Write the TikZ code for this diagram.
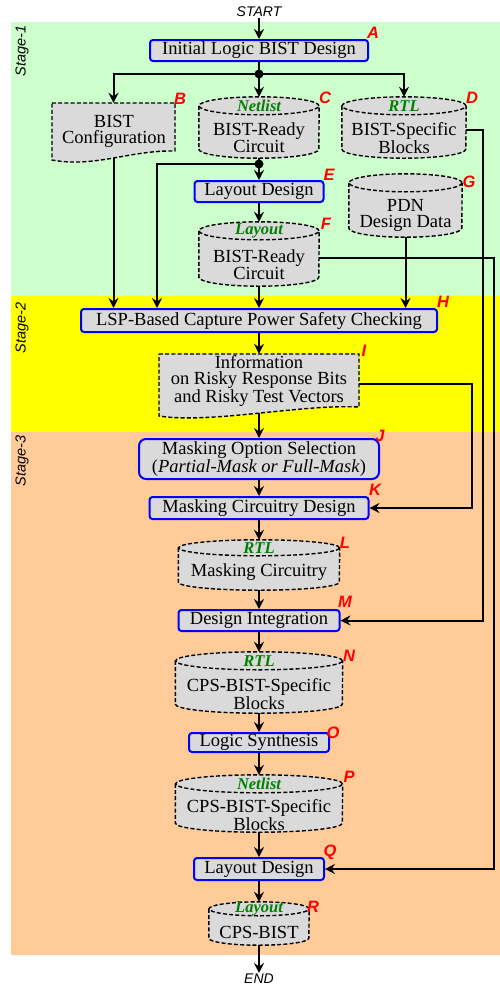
\documentclass[tikz,border=0pt]{standalone}
\usepackage{fontspec}
\setmainfont{Liberation Serif}
\newfontfamily\arialf{Liberation Sans}
\usetikzlibrary{arrows.meta,calc}

\definecolor{stgreen}{HTML}{CCFFCC}
\definecolor{styellow}{HTML}{FFFF00}
\definecolor{storange}{HTML}{FFCC99}
\definecolor{boxgray}{HTML}{DADADA}
\definecolor{lblgreen}{HTML}{008000}
\definecolor{boxblue}{HTML}{0000FF}

\tikzset{
 procbox/.style={draw=boxblue, line width=2pt, fill=boxgray, rounded corners=3pt, inner sep=0pt,
   font=\fontsize{18.5}{16}\selectfont, align=center},
 cylframe/.style={inner sep=0pt, draw=none, fill=none},
 cylline/.style={draw=black, line width=1.4pt, dash pattern=on 4pt off 2.2pt},
 maintext/.style={font=\fontsize{18.5}{16}\selectfont, align=center, inner sep=0pt},
 kindtext/.style={font=\fontsize{16.5}{16}\selectfont\bfseries\itshape, text=lblgreen, inner sep=0pt},
 letter/.style={font=\arialf\fontsize{16.5}{16}\selectfont\bfseries\itshape, text=red, inner sep=0pt},
 stagetext/.style={font=\arialf\fontsize{14.5}{15}\selectfont\itshape, rotate=90, inner sep=0pt},
 termtext/.style={font=\arialf\fontsize{14}{14}\selectfont\itshape, inner sep=1pt},
 arr/.style={line width=2pt, -{Stealth[length=10pt,width=10pt,inset=3.5pt]}},
 conn/.style={line width=2pt},
 junction/.style={circle, fill=black, inner sep=0pt, minimum size=9pt},
}

% name, cx, top, bottom, halfwidth, ry, kind, text, texty
\newcommand\dbcyl[9]{%
  \node[cylframe, minimum width={2*#5*1pt}, minimum height={(#4-#3)*1pt}] (#1) at (#2,{(#3+#4)/2}) {};
  \fill[boxgray] ([yshift=-#6pt]#1.north west) -- ([yshift=#6pt]#1.south west)
     arc[start angle=180, end angle=360, x radius=#5pt, y radius=#6pt]
     -- ([yshift=-#6pt]#1.north east)
     arc[start angle=0, end angle=180, x radius=#5pt, y radius=#6pt] -- cycle;
  \draw[cylline] ([yshift=-#6pt]#1.north west) -- ([yshift=#6pt]#1.south west)
     arc[start angle=180, end angle=360, x radius=#5pt, y radius=#6pt]
     -- ([yshift=-#6pt]#1.north east);
  \draw[cylline] ([yshift=-#6pt]#1.north) ellipse [x radius=#5pt, y radius=#6pt];
  \node[kindtext] (#1k) at ([yshift=-#6pt]#1.north) {#7};
  \node[maintext] (#1t) at (#2,#9) {#8};
}

\begin{document}
\begin{tikzpicture}[x=1pt,y=-1pt]
\useasboundingbox (0,0) rectangle (500,986);

% stage backgrounds
\fill[stgreen] (11,22) rectangle (500,296);
\fill[styellow] (11,296) rectangle (500,432);
\fill[storange] (11,432) rectangle (500,955);
\node[stagetext] (s1) at (22,51) {Stage-1};
\node[stagetext] (s2) at (22,328) {Stage-2};
\node[stagetext] (s3) at (22,461) {Stage-3};

% terminals
\node[termtext] (start) at (259,12) {START};
\node[termtext] (end) at (259,979) {END};

% rails
\coordinate (rail1) at (483,0);
\coordinate (rail2) at (494,0);
\coordinate (rail3) at (472,0);
\coordinate (hx) at (157,0);

% process boxes
\node[procbox, minimum width=218pt, minimum height=21pt] (A) at (259,50.5) {Initial Logic BIST Design};
\node[procbox, minimum width=129pt, minimum height=21pt] (E) at (259,191.5) {Layout Design};
\node[procbox, minimum width=356pt, minimum height=23pt] (H) at (259,320.5) {LSP-Based Capture Power Safety Checking};
\node[procbox, rounded corners=7pt, minimum width=240pt, minimum height=40pt] (J) at (259,459)
  {Masking Option Selection\\(\textit{Partial-Mask or Full-Mask})};
\node[procbox, minimum width=219pt, minimum height=22pt] (K) at (259,508) {Masking Circuitry Design};
\node[procbox, minimum width=161pt, minimum height=21pt] (M) at (259,620.5) {Design Integration};
\node[procbox, minimum width=140pt, minimum height=19pt] (O) at (259,742.5) {Logic Synthesis};
\node[procbox, minimum width=130pt, minimum height=22pt] (Q) at (259,869) {Layout Design};

% document shapes
\node[cylframe, minimum width=123pt, minimum height=55pt] (B) at (113.5,130.5) {};
\path[fill=boxgray, cylline] (52,103) -- (175,103) -- (175,151) .. controls (130,150) and (95,168) .. (52,160) -- cycle;
\node[maintext] (Bt) at (114,131) {BIST\\Configuration};

\node[cylframe, minimum width=200pt, minimum height=59pt] (I) at (259,383.5) {};
\path[fill=boxgray, cylline] (159,354) -- (359,354) -- (359,407) .. controls (301,404) and (211,424) .. (159,416) -- cycle;
\node[maintext] (It) at (259,381) {Information\\on Risky Response Bits\\and Risky Test Vectors};

% cylinders
\dbcyl{C}{259}{97}{158}{60}{9}{Netlist}{BIST-Ready\\Circuit}{138}
\dbcyl{D}{404}{97}{158}{62}{9}{RTL}{BIST-Specific\\Blocks}{138}
\dbcyl{G}{405.5}{174}{237}{56.5}{9}{}{PDN\\Design Data}{215}
\dbcyl{F}{259}{222}{286}{60}{9}{Layout}{BIST-Ready\\Circuit}{265}
\dbcyl{L}{259}{540}{590}{80.5}{8}{RTL}{Masking Circuitry}{572}
\dbcyl{N}{259}{652}{713}{83.5}{9}{RTL}{CPS-BIST-Specific\\Blocks}{694}
\dbcyl{P}{259}{775}{832}{83.5}{9}{Netlist}{CPS-BIST-Specific\\Blocks}{815}
\dbcyl{R}{259}{902}{945}{50}{7}{Layout}{CPS-BIST}{932}

% junctions
\node[junction] (j1) at (259,74) {};
\node[junction] (j2) at (259,164) {};

% connectors
\draw[arr] (start) -- (A);
\draw[arr] (A.south) -- (C.north);
\draw[arr] (j1.center) -| (B.north);
\draw[arr] (j1.center) -| (D.north);
\draw[arr] (C.south) -- (E.north);
\draw[arr] (j2.center) -| (hx |- H.north);
\draw[arr] (E.south) -- (F.north);
\draw[arr] (B.south) -- (B.south |- H.north);
\draw[arr] (F.south) -- (H.north);
\draw[arr] (G.south) -- (G.south |- H.north);
\coordinate (dout) at ([yshift=-2pt]D.east);
\draw[arr] (dout) -- (dout -| rail1) |- (M.east);
\coordinate (fout) at ([yshift=-3.5pt]F.east);
\draw[arr] (fout) -- (fout -| rail2) |- (Q.east);
\draw[arr] (H.south) -- (I.north);
\draw[arr] (I.east) -- (I.east -| rail3) |- (K.east);
\draw[arr] (I.south) -- (J.north);
\draw[arr] (J.south) -- (K.north);
\draw[arr] (K.south) -- (L.north);
\draw[arr] (L.south) -- (M.north);
\draw[arr] (M.south) -- (N.north);
\draw[arr] (N.south) -- (O.north);
\draw[arr] (O.south) -- (P.north);
\draw[arr] (P.south) -- (Q.north);
\draw[arr] (Q.south) -- (R.north);
\draw[arr] (R.south) -- (end);

% letters
\node[letter] (lA) at (373,33) {A};
\node[letter] (lB) at (180,99) {B};
\node[letter] (lC) at (325,98) {C};
\node[letter] (lD) at (472,98) {D};
\node[letter] (lE) at (329,175) {E};
\node[letter] (lF) at (326,224) {F};
\node[letter] (lG) at (469,182) {G};
\node[letter] (lH) at (443,302) {H};
\node[letter] (lI) at (364,351) {I};
\node[letter] (lJ) at (380,436) {J};
\node[letter] (lK) at (375,490) {K};
\node[letter] (lL) at (345,543) {L};
\node[letter] (lM) at (345,602) {M};
\node[letter] (lN) at (349,656) {N};
\node[letter] (lO) at (333,733) {O};
\node[letter] (lP) at (349,777) {P};
\node[letter] (lQ) at (330,852) {Q};
\node[letter] (lR) at (313,907) {R};
\end{tikzpicture}
\end{document}
